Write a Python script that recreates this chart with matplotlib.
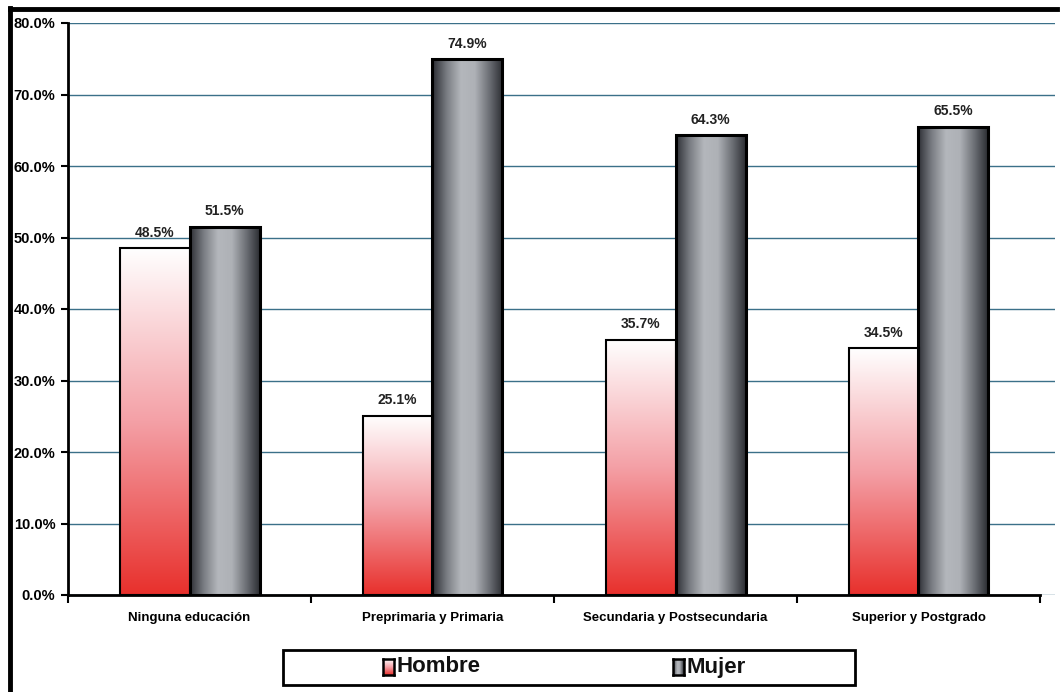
import numpy as np
import matplotlib
matplotlib.use("Agg")
import matplotlib.pyplot as plt
from matplotlib.colors import LinearSegmentedColormap
from matplotlib.lines import Line2D
from matplotlib.patches import Rectangle

categories = ["Ninguna educación", "Preprimaria y Primaria",
              "Secundaria y Postsecundaria", "Superior y Postgrado"]
hombre = [48.5, 25.1, 35.7, 34.5]
mujer = [51.5, 74.9, 64.3, 65.5]
series_names = ["Hombre", "Mujer"]
yticks = [0, 10, 20, 30, 40, 50, 60, 70, 80]

FONT = ["Liberation Sans Narrow", "Liberation Sans", "DejaVu Sans"]
plt.rcParams["font.family"] = FONT

W, H = 1061, 692
fig = plt.figure(figsize=(W / 100, H / 100), dpi=100)
fig.patch.set_facecolor("white")


def fx(px):
    return px / W


def fy(py):
    return 1 - py / H


red_cmap = LinearSegmentedColormap.from_list("red", ["#e8302c", "#f4a0a6", "#ffffff"])
gray_cmap = LinearSegmentedColormap.from_list(
    "gray", ["#2e3036", "#7b7e84", "#b4b7bc", "#aeb1b6", "#6e7177", "#2b2d32"])
vgrad = np.linspace(0, 1, 256).reshape(-1, 1)
hgrad = np.linspace(0, 1, 256).reshape(1, -1)

ax_l, ax_r, ax_t, ax_b = 68, 1055, 23, 595
ax = fig.add_axes([fx(ax_l), fy(ax_b), fx(ax_r - ax_l), (ax_b - ax_t) / H])

# gridlines run a little past the end of the category axis
span = 4.0 * (ax_r - ax_l) / (1040 - ax_l)
bw = 70 / 243
x = np.arange(len(categories))

ax.set_yticks(yticks)
ax.yaxis.grid(True, color="#3b7089", lw=1.0)
ax.set_axisbelow(True)

# gradient fills: vertical red for Hombre, horizontal metal grey for Mujer
for i in range(len(categories)):
    x0 = x[i] - bw
    ax.imshow(vgrad, cmap=red_cmap, aspect="auto", origin="lower",
              extent=(x0, x0 + bw, 0, hombre[i]), zorder=2, interpolation="bilinear")
    ax.imshow(hgrad, cmap=gray_cmap, aspect="auto", origin="lower",
              extent=(x[i], x[i] + bw, 0, mujer[i]), zorder=2, interpolation="bilinear")

ax.bar(x - bw / 2, hombre, bw, facecolor="none", edgecolor="black", lw=1.5, zorder=3)
ax.bar(x + bw / 2, mujer, bw, facecolor="none", edgecolor="black", lw=2.2, zorder=3)
ax.set_xlim(-0.5, -0.5 + span)
ax.set_ylim(0, 80)

for i in range(len(categories)):
    ax.text(x[i] - bw / 2, hombre[i] + 1.2, f"{hombre[i]:.1f}%", ha="center",
            va="bottom", fontsize=10, fontweight="bold", color="#222222")
    ax.text(x[i] + bw / 2, mujer[i] + 1.2, f"{mujer[i]:.1f}%", ha="center",
            va="bottom", fontsize=10, fontweight="bold", color="#222222")

ax.set_yticklabels([f"{v:.1f}%" for v in yticks], fontsize=10.5, fontweight="bold")
ax.set_xticks(x)
ax.set_xticklabels(categories, fontsize=9.5, fontweight="bold")
ax.tick_params(axis="x", length=0, pad=12)
ax.tick_params(axis="y", length=5, width=1.5, direction="out", pad=4)
ax.set_xticks(np.arange(-0.5, 4.0, 1.0), minor=True)
ax.tick_params(axis="x", which="minor", length=6, width=1.5, direction="out")
for s in ["top", "right"]:
    ax.spines[s].set_visible(False)
ax.spines["left"].set_linewidth(2)
ax.spines["bottom"].set_linewidth(2)
ax.spines["bottom"].set_bounds(-0.5, 3.5)

# outer frame lines (left and top only)
fig.add_artist(Line2D([fx(10), fx(10)], [fy(8), 0], color="black", lw=3.5))
fig.add_artist(Line2D([fx(10), fx(1057)], [fy(9), fy(9)], color="black", lw=3.5))

# legend box
fig.add_artist(Rectangle((fx(283), fy(685)), fx(855 - 283), (685 - 650) / H,
                         facecolor="white", edgecolor="black", lw=2, zorder=0.5))
for name, mx, cmap, grad in [(series_names[0], 383, red_cmap, vgrad),
                              (series_names[1], 673, gray_cmap, hgrad)]:
    max_ = fig.add_axes([fx(mx), fy(675), fx(11), 16 / H])
    max_.set_zorder(5)
    max_.imshow(grad, cmap=cmap, aspect="auto", origin="lower",
                extent=(0, 1, 0, 1), interpolation="bilinear")
    max_.set_xticks([])
    max_.set_yticks([])
    for s in max_.spines.values():
        s.set_linewidth(1.8)
    fig.text(fx(mx + 14), fy(667), name, fontsize=16, fontweight="bold",
             va="center", ha="left", color="#111111", zorder=6)

fig.savefig("out.png", dpi=100)
